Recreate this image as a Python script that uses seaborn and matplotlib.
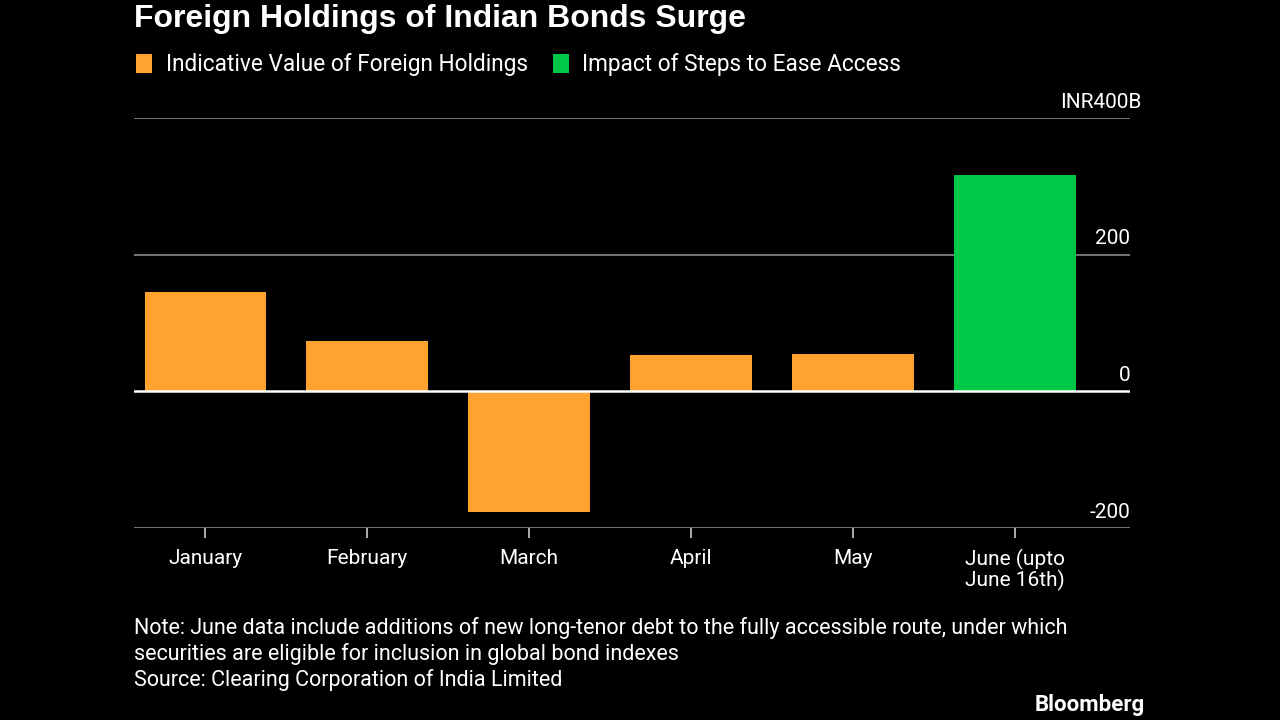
import matplotlib.pyplot as plt
import seaborn as sns
import pandas as pd

# data (INR billions)
months = ['January', 'February', 'March', 'April', 'May', 'June (upto\nJune 16th)']
values = [146, 74, -177, 53, 55, 316]
series = ['Indicative Value of Foreign Holdings'] * 5 + ['Impact of Steps to Ease Access']
ytick_vals = [-200, 0, 200, 400]
ytick_labels = ['-200', '0', '200', 'INR400B']

PALETTE = {
    'Indicative Value of Foreign Holdings': '#FFA22F',
    'Impact of Steps to Ease Access': '#00C846',
}

sns.set_theme(style='dark')
plt.rcParams['font.family'] = ['Roboto', 'DejaVu Sans']

df = pd.DataFrame({'Month': months, 'Value': values, 'Series': series})

fig = plt.figure(figsize=(12.8, 7.2), dpi=100, facecolor='black')
ax = fig.add_axes([134 / 1280, 1 - 528 / 720, (1130 - 134) / 1280, (528 - 118) / 720])
ax.set_facecolor('black')

sns.barplot(data=df, x='Month', y='Value', hue='Series', palette=PALETTE,
            dodge=False, width=0.75, linewidth=0, saturation=1, ax=ax)

ax.set_ylim(-200, 400)
ax.set_xlim(-0.44, 5.71)
for s in ax.spines.values():
    s.set_visible(False)

# gridlines and labels sitting above them on the right
for v, lab in zip(ytick_vals, ytick_labels):
    if v == 0:
        ax.axhline(v, color='white', lw=1.8, zorder=3)
    else:
        ax.axhline(v, color='#8a8a8a', lw=1.2, zorder=0)
    # unit suffix hangs past the number column
    dx = 8 if lab.endswith('B') else 0
    ax.annotate(lab, xy=(1, v), xycoords=('axes fraction', 'data'),
                xytext=(dx, 4.5), textcoords='offset points',
                ha='right', va='bottom', color='white', fontsize=15)

ax.set_yticks([])
ax.set_xlabel('')
ax.set_ylabel('')
ax.tick_params(axis='x', colors='#cccccc', length=7, width=1.2, direction='out',
               bottom=True, pad=8, labelsize=15, labelcolor='white')
for t in ax.get_xticklabels():
    t.set_linespacing(1.0)

ax.get_legend().remove()
handles, labels = ax.get_legend_handles_labels()
fig.legend(handles, labels, loc='center left', bbox_to_anchor=(116 / 1280, 1 - 65 / 720),
           ncol=2, frameon=False, fontsize=16.3, labelcolor='white',
           handlelength=0.7, handleheight=0.9, handletextpad=0.6, columnspacing=1.1)

fig.text(134 / 1280, 1 - 19 / 720, 'Foreign Holdings of Indian Bonds Surge',
         color='white', fontsize=23, fontweight='bold', va='center', ha='left',
         family=['Liberation Sans', 'DejaVu Sans'])

fig.text(134 / 1280, 1 - 641 / 720,
         'Note: June data include additions of new long-tenor debt to the fully accessible route, under which\n'
         'securities are eligible for inclusion in global bond indexes',
         color='white', fontsize=15.5, va='center', ha='left', linespacing=1.25)
fig.text(134 / 1280, 1 - 680 / 720, 'Source: Clearing Corporation of India Limited',
         color='white', fontsize=15.5, va='center', ha='left')
fig.text(1145 / 1280, 1 - 705 / 720, 'Bloomberg', color='white', fontsize=16,
         fontweight='bold', va='center', ha='right')

fig.savefig('out.png', dpi=100, facecolor='black')
